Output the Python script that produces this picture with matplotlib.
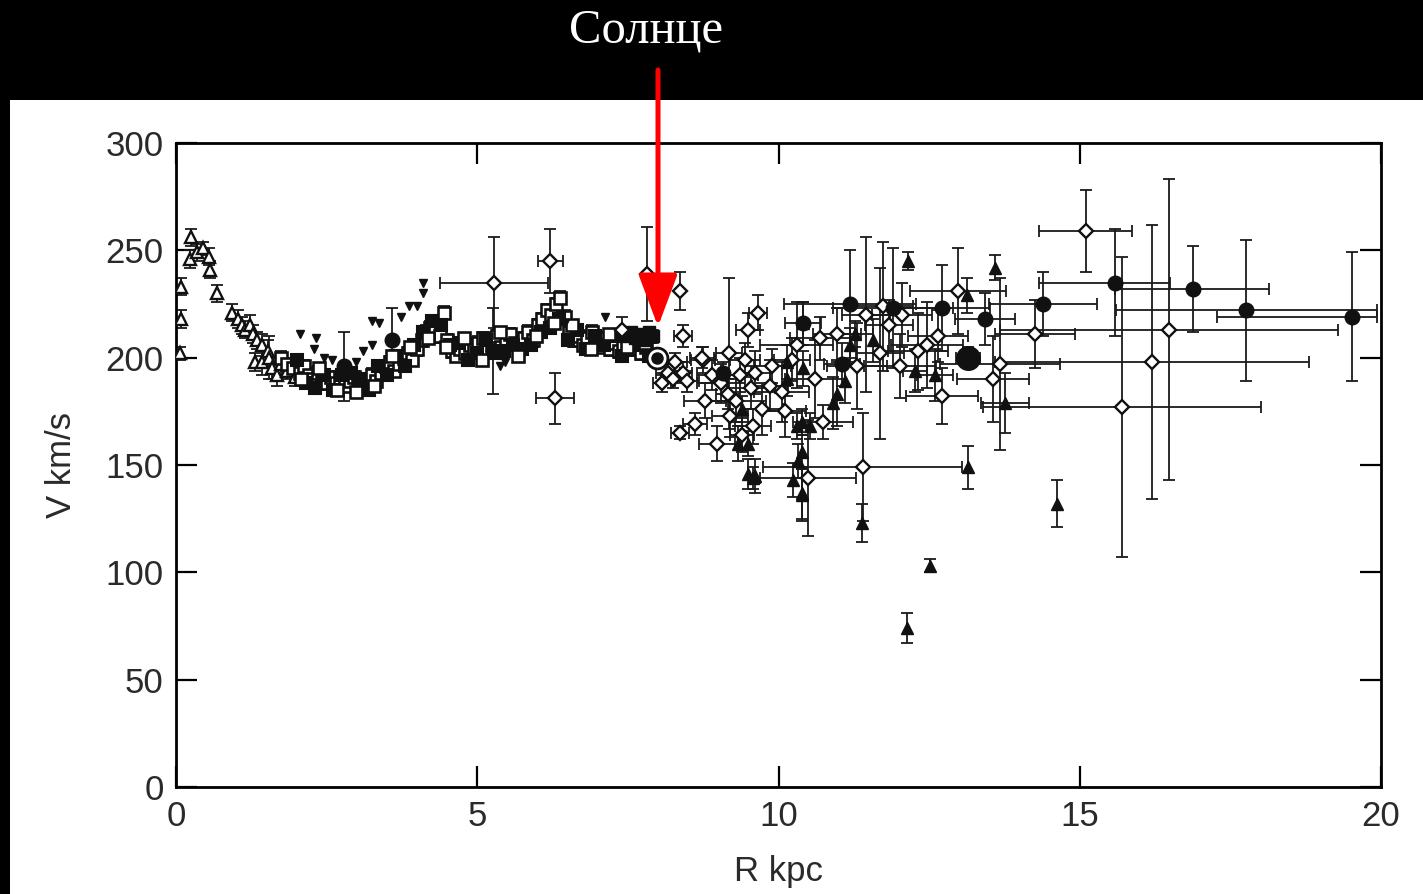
import matplotlib
matplotlib.use("Agg")
import matplotlib.pyplot as plt
from matplotlib.patches import Rectangle
import numpy as np

# ---------------- data ----------------
# open triangles (inner HI tangent points): R, V, yerr
tri_R = [0.08, 0.08, 0.07, 0.23, 0.25, 0.35, 0.45, 0.55, 0.56, 0.68, 0.93, 1.03, 1.10, 1.15,
         1.23, 1.28, 1.35, 1.43, 1.53, 1.31, 1.43, 1.55, 1.60, 1.68, 1.75, 1.85, 1.97]
tri_V = [233, 218, 202, 246, 256, 249, 251, 247, 241, 230, 221, 218, 215, 213,
         215, 211, 208, 206, 203, 198, 198, 200, 195, 192, 197, 194, 191]
tri_E = [4, 4, 3, 4, 4, 4, 3, 4, 4, 4, 4, 4, 4, 4,
         5, 4, 4, 5, 5, 4, 6, 10, 5, 5, 5, 4, 4]

# open squares (CO tangent points)
sq_R = [1.75, 1.85, 1.95, 2.05, 2.12, 2.20, 2.28, 2.35, 2.42, 2.50, 2.58, 2.65, 2.72, 2.80, 2.88,
        2.95, 3.02, 3.10, 3.18, 3.25, 3.32, 3.40, 3.48, 3.55, 3.62, 3.70, 3.78, 3.85, 3.92, 4.00,
        4.08, 4.15, 4.22, 4.30, 4.38, 4.45, 4.50, 4.58, 4.65, 4.72, 4.80, 4.88, 4.95, 5.02, 5.10,
        5.18, 5.25, 5.32, 5.40, 5.48, 5.55, 5.62, 5.70, 5.78, 5.85, 5.92, 6.00, 6.08, 6.15, 6.22,
        6.30, 6.38, 6.45, 6.52, 6.60, 6.68, 6.75, 6.82, 6.90, 6.98, 7.05, 7.12, 7.20, 7.28, 7.35,
        7.42, 7.50, 7.58, 7.65, 7.72, 7.80, 7.88]
sq_V = [200, 197, 195, 193, 196, 192, 190, 193, 189, 188, 191, 188, 190, 187, 189,
        191, 187, 186, 190, 192, 189, 193, 196, 198, 194, 197, 200, 202, 199, 204,
        208, 212, 214, 213, 210, 221, 208, 203, 201, 204, 202, 206, 204, 207, 209,
        203, 206, 210, 205, 208, 211, 207, 205, 209, 212, 208, 215, 218, 222, 220,
        225, 228, 219, 212, 208, 210, 206, 209, 212, 207, 205, 209, 204, 207, 203,
        206, 208, 204, 207, 202, 205, 210]
sq2_R = [2.00, 2.15, 2.30, 2.45, 2.60, 2.75, 2.90, 3.05, 3.20, 3.35, 3.50, 3.65, 3.80, 3.95, 4.10,
         4.25, 4.40, 4.55, 4.70, 4.85, 5.00, 5.15, 5.30, 5.45, 5.60, 5.75, 5.90, 6.05, 6.20, 6.35,
         6.50, 6.65, 6.80, 6.95, 7.10, 7.25, 7.40, 7.55, 7.70, 7.85]
sq2_V = [199, 188, 186, 192, 185, 192, 193, 190, 185, 196, 192, 201, 196, 206, 212,
         217, 215, 206, 207, 199, 202, 208, 202, 203, 206, 204, 206, 212, 214, 218,
         208, 213, 204, 210, 206, 210, 201, 210, 206, 201]
sq3_R = [2.08, 2.38, 2.68, 2.98, 3.28, 3.58, 3.88, 4.18, 4.48, 4.78, 5.08, 5.38, 5.68, 5.98,
         6.28, 6.58, 6.88, 7.18, 7.48, 7.78]
sq3_V = [190, 195, 185, 184, 187, 201, 205, 209, 205, 209, 199, 212, 201, 210,
         216, 215, 204, 211, 205, 207]

# filled squares near the Sun
fsq_R = [7.45, 7.55, 7.62, 7.70, 7.78, 7.85, 7.92]
fsq_V = [210, 212, 209, 211, 208, 212, 210]

# small filled inverted triangles
vtri_R = [2.06, 2.29, 2.32, 2.46, 2.59, 2.99, 3.10, 3.25, 3.25, 3.37, 3.73, 3.87, 4.00, 4.10,
          4.10, 5.38, 5.46, 6.46, 7.12]
vtri_V = [211, 204, 209, 200, 199, 198, 203, 206, 217, 216, 219, 224, 224, 235,
          230, 196, 198, 216, 219]

# filled circles: R, V, yerr, xerr low / high
cir_R = [3.58, 2.79, 5.26, 9.08, 10.40, 11.05, 11.19, 11.90, 12.71, 13.43, 14.39, 15.59, 16.88, 17.76, 19.52]
cir_V = [208, 196, 203, 193, 216, 197, 225, 223, 223, 218, 225, 235, 232, 222, 219]
cir_E = [15, 16, 20, 5, 10, 10, 25, 28, 20, 12, 15, 25, 20, 33, 30]
cir_XL = [0, 0, 0, 0, 0.3, 0.3, 1.1, 1.0, 0.8, 0.5, 0.9, 1.26, 1.30, 2.16, 2.24]
cir_XH = [0, 0, 0, 0, 0.3, 0.3, 1.1, 1.0, 0.8, 0.5, 0.9, 0.90, 1.26, 2.17, 0.41]

# big filled circle
big_R = [13.14]
big_V = [200]

# the Sun
sun_R = [7.98]
sun_V = [200]

# open diamonds: R, V, xerr, yerr
dia_R = [5.28, 6.21, 6.29, 7.82, 8.37, 8.41, 7.40, 9.18, 9.49, 9.66, 8.75, 9.44, 10.69, 10.97,
         10.22, 9.86, 9.61, 9.36, 8.78, 8.61, 8.37, 8.98, 9.20, 9.39, 9.58, 9.16, 10.74, 10.49,
         8.28, 8.17, 8.07, 8.25, 8.41, 8.48, 8.73, 12.98, 11.73, 11.45, 12.05, 11.83, 12.65, 12.46,
         12.32, 11.68, 11.30, 12.02, 13.68, 14.26, 13.56, 12.71, 11.40, 15.10, 16.48, 16.20, 15.70,
         9.05, 9.30, 9.72, 10.05, 10.30, 9.90, 8.90, 9.55, 10.60, 10.10]
dia_V = [235, 245, 181, 239, 231, 210, 213, 202, 213, 221, 199, 199, 209, 211,
         199, 187, 193, 192, 180, 169, 165, 160, 173, 164, 168, 183, 170, 144,
         198, 193, 188, 190, 193, 189, 200, 231, 224, 220, 220, 215, 210, 206,
         203, 202, 196, 196, 197, 211, 190, 182, 149, 259, 213, 198, 177,
         188, 180, 176, 184, 206, 196, 192, 186, 190, 175]
dia_X = [0.90, 0.21, 0.32, 0.00, 0.00, 0.15, 0.00, 0.22, 0.20, 0.15, 0.20, 0.25, 0.50, 0.40,
         0.30, 0.30, 0.25, 0.30, 0.35, 0.20, 0.15, 0.30, 0.30, 0.20, 0.30, 0.20, 0.50, 0.80,
         0.20, 0.20, 0.15, 0.20, 0.15, 0.20, 0.20, 0.80, 0.50, 0.40, 0.50, 0.40, 0.50, 0.60,
         0.50, 0.40, 0.50, 0.60, 1.00, 0.66, 0.60, 0.60, 1.65, 0.77, 2.80, 2.60, 2.30,
         0.40, 0.50, 0.35, 0.45, 0.60, 0.30, 0.25, 0.40, 0.50, 0.35]
dia_E = [21, 15, 12, 22, 9, 5, 6, 35, 8, 8, 6, 8, 10, 12,
         10, 12, 10, 8, 8, 5, 3, 8, 10, 8, 8, 7, 8, 27,
         4, 4, 4, 4, 5, 5, 5, 20, 30, 36, 15, 12, 12, 20,
         18, 40, 20, 15, 40, 16, 20, 13, 25, 19, 70, 64, 70,
         9, 10, 12, 14, 20, 8, 7, 10, 18, 12]

# filled triangles: R, V, yerr, xerr
ftri_R = [12.15, 13.59, 13.13, 11.27, 11.19, 11.57, 12.27, 12.60, 11.10, 10.97, 10.90, 13.76, 13.15,
          11.39, 12.51, 12.13, 10.39, 10.24, 10.32, 10.39, 9.49, 9.61, 9.33, 10.40, 10.14, 10.40,
          10.14, 9.39, 10.39, 10.30, 10.52, 9.49, 9.58, 10.39, 14.62]
ftri_V = [245, 242, 229, 211, 206, 208, 194, 192, 189, 183, 179, 179, 149,
          123, 103, 74, 136, 143, 152, 156, 146, 145, 160, 216, 198, 195,
          190, 176, 170, 168, 168, 160, 144, 137, 132]
ftri_E = [4, 6, 8, 6, 8, 10, 10, 12, 10, 15, 12, 14, 10,
          9, 3, 7, 12, 8, 8, 8, 7, 8, 8, 10, 8, 8,
          8, 6, 6, 6, 6, 6, 5, 12, 11]
ftri_X = [0, 0, 0, 0.3, 0, 0, 0.2, 0.3, 0, 0, 0, 0.4, 0,
          0, 0, 0, 0, 0, 0, 0, 0, 0, 0, 0, 0, 0,
          0, 0, 0, 0, 0, 0, 0, 0, 0]

x_ticks = [0, 5, 10, 15, 20]
y_ticks = [0, 50, 100, 150, 200, 250, 300]

# ---------------- figure ----------------
W, H = 1423, 894
fig = plt.figure(figsize=(W / 100, H / 100), dpi=100)
fig.patch.set_facecolor("black")
fig.add_artist(Rectangle((10 / W, 0), 1, (H - 100) / H, transform=fig.transFigure,
                         facecolor="white", edgecolor="none", zorder=0))

ax = fig.add_axes([176 / W, 107 / H, 1205 / W, 644 / H])
ax.set_xlim(0, 20)
ax.set_ylim(0, 300)

K = "#111111"
eb = dict(fmt="none", ecolor="#1a1a1a", elinewidth=1.3, capsize=4.5, capthick=1.3, zorder=2)

# inner open triangles
ax.errorbar(tri_R, tri_V, yerr=tri_E, **eb)
ax.plot(tri_R, tri_V, "^", ms=8.5, mfc="white", mec=K, mew=1.7, ls="none", zorder=3)

# squares
ax.errorbar(sq_R, sq_V, yerr=3, **eb)
ax.plot(sq_R, sq_V, "s", ms=8.5, mfc="white", mec=K, mew=1.9, ls="none", zorder=3)
ax.plot(sq2_R, sq2_V, "s", ms=8.5, mfc=K, mec=K, mew=1.5, ls="none", zorder=3)
ax.plot(sq3_R, sq3_V, "s", ms=8.5, mfc="white", mec=K, mew=1.9, ls="none", zorder=3)
ax.plot(fsq_R, fsq_V, "s", ms=8.5, mfc=K, mec=K, ls="none", zorder=3)

# small inverted triangles
ax.plot(vtri_R, vtri_V, "v", ms=6, mfc=K, mec=K, ls="none", zorder=3)

# diamonds
ax.errorbar(dia_R, dia_V, xerr=dia_X, yerr=dia_E, **eb)
ax.plot(dia_R, dia_V, "D", ms=7.5, mfc="white", mec=K, mew=1.7, ls="none", zorder=4)

# filled triangles
ax.errorbar(ftri_R, ftri_V, xerr=ftri_X, yerr=ftri_E, **eb)
ax.plot(ftri_R, ftri_V, "^", ms=8.5, mfc=K, mec=K, ls="none", zorder=4)

# filled circles
ax.errorbar(cir_R, cir_V, xerr=[cir_XL, cir_XH], yerr=cir_E, **eb)
ax.plot(cir_R, cir_V, "o", ms=10.5, mfc=K, mec=K, ls="none", zorder=4)

# big circle
ax.errorbar(big_R, big_V, xerr=0.2, yerr=5, **eb)
ax.plot(big_R, big_V, "o", ms=17, mfc=K, mec=K, ls="none", zorder=4)

# Sun
ax.plot(sun_R, sun_V, "o", ms=15, mfc="white", mec=K, mew=2, ls="none", zorder=5)
ax.plot(sun_R, sun_V, "o", ms=8, mfc=K, mec=K, ls="none", zorder=6)

# axes style
for s in ax.spines.values():
    s.set_linewidth(2)
    s.set_color("black")
ax.set_xticks(x_ticks)
ax.set_yticks(y_ticks)
ax.tick_params(direction="in", length=15, width=1.6, top=True, right=True,
               labelsize=25, labelcolor="#2a2a2a", pad=9)
for lab in ax.get_xticklabels() + ax.get_yticklabels():
    lab.set_family("Liberation Sans")
ax.set_xlabel("R kpc", fontsize=25, family="Liberation Sans", color="#2a2a2a", labelpad=16)
ax.set_ylabel("V km/s", fontsize=25, family="Liberation Sans", color="#2a2a2a", labelpad=20)

# title and red arrow
fig.text(646 / W, 1 - 30 / H, "Солнце", color="white", fontsize=35,
         family="Liberation Serif", ha="center", va="center")
ax.annotate("", xy=(8.0, 214.5), xycoords="data",
            xytext=(658 / W, 1 - 70 / H), textcoords="figure fraction",
            arrowprops=dict(arrowstyle="-|>,head_length=1.6,head_width=0.6",
                            mutation_scale=20, color="#ff0000", lw=3.6,
                            shrinkA=0, shrinkB=0),
            annotation_clip=False, zorder=10)

fig.savefig("out.png", dpi=100, facecolor=fig.get_facecolor())
